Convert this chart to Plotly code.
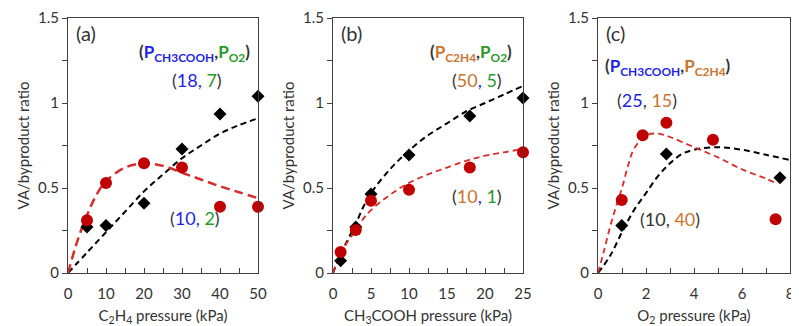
import plotly.graph_objects as go

# ---------------- data ----------------
# panel (a): C2H4 pressure
a_x = [5, 10, 20, 30, 40, 50]
a_black = [0.27, 0.28, 0.41, 0.73, 0.935, 1.04]
a_red = [0.31, 0.53, 0.645, 0.62, 0.39, 0.39]
a_fit_x_black = [0, 5, 10, 15, 20, 25, 30, 35, 40, 45, 50]
a_fit_black = [0, 0.12, 0.24, 0.36, 0.48, 0.58, 0.675, 0.75, 0.82, 0.87, 0.91]
a_fit_x_red = [0, 2.5, 5, 7.5, 10, 15, 20, 25, 30, 35, 40, 45, 50]
a_fit_red = [0, 0.19, 0.34, 0.46, 0.54, 0.62, 0.645, 0.63, 0.59, 0.55, 0.51, 0.475, 0.44]

# panel (b): CH3COOH pressure
b_x = [1, 3, 5, 10, 18, 25]
b_black = [0.072, 0.27, 0.465, 0.694, 0.924, 1.03]
b_red = [0.124, 0.253, 0.425, 0.49, 0.62, 0.71]
b_fit_x = [0, 1, 2, 3, 4, 5, 7.5, 10, 12.5, 15, 17.5, 20, 22.5, 25]
b_fit_black = [0, 0.11, 0.2, 0.29, 0.39, 0.47, 0.61, 0.72, 0.81, 0.88, 0.95, 1.0, 1.05, 1.1]
b_fit_red = [0, 0.11, 0.19, 0.25, 0.32, 0.37, 0.46, 0.53, 0.58, 0.62, 0.66, 0.69, 0.71, 0.73]

# panel (c): O2 pressure
c_x_black = [0.99, 2.85, 7.58]
c_black = [0.28, 0.70, 0.56]
c_x_red = [0.99, 1.86, 2.85, 4.79, 7.4]
c_red = [0.43, 0.81, 0.884, 0.784, 0.316]
c_fit_x_black = [0, 0.5, 1, 1.5, 2, 2.5, 3, 3.5, 4, 5, 6, 7, 8]
c_fit_black = [0, 0.1, 0.24, 0.37, 0.47, 0.57, 0.645, 0.7, 0.725, 0.74, 0.725, 0.695, 0.665]
c_fit_x_red = [0, 0.25, 0.5, 0.75, 1, 1.25, 1.5, 2, 2.5, 3, 4, 5, 6, 7, 7.4]
c_fit_red = [0, 0.13, 0.27, 0.39, 0.5, 0.63, 0.73, 0.81, 0.82, 0.80, 0.74, 0.68, 0.61, 0.555, 0.53]

# ---------------- style ----------------
BLACK = "#000000"
RED_M = "#c00000"
RED_L = "#d92b2b"
BLUE = "#1f1fe6"
GREEN = "#2a9a2a"
ORANGE = "#c8742e"
DARK = "#333333"
FONT = "Lato"

fig = go.Figure()

panels = [
    ("x", "y", a_x, a_black, a_x, a_red, a_fit_x_black, a_fit_black, a_fit_x_red, a_fit_red, "9px,5px", 2.5),
    ("x2", "y2", b_x, b_black, b_x, b_red, b_fit_x, b_fit_black, b_fit_x, b_fit_red, "6px,4px", 1.8),
    ("x3", "y3", c_x_black, c_black, c_x_red, c_red, c_fit_x_black, c_fit_black, c_fit_x_red, c_fit_red, "6px,4px", 1.8),
]

for xr, yr, bx, by, rx, ry, fbx, fby, frx, fry, rdash, rw in panels:
    fig.add_trace(go.Scatter(x=fbx, y=fby, xaxis=xr, yaxis=yr, mode="lines",
                             line=dict(color=BLACK, width=2, dash="6px,4px", shape="spline"),
                             showlegend=False, hoverinfo="skip"))
    fig.add_trace(go.Scatter(x=frx, y=fry, xaxis=xr, yaxis=yr, mode="lines",
                             line=dict(color=RED_L, width=rw, dash=rdash, shape="spline"),
                             showlegend=False, hoverinfo="skip"))
    fig.add_trace(go.Scatter(x=bx, y=by, xaxis=xr, yaxis=yr, mode="markers",
                             marker=dict(symbol="diamond", size=10, color=BLACK),
                             cliponaxis=False, showlegend=False))
    fig.add_trace(go.Scatter(x=rx, y=ry, xaxis=xr, yaxis=yr, mode="markers",
                             marker=dict(symbol="circle", size=12, color=RED_M),
                             cliponaxis=False, showlegend=False))

# page has an 8px body margin: figure drawn from (8, 8)
OFF = 8
W, H = 791, 318
ydom = [1 - (273 - OFF) / H, 1 - (18 - OFF) / H]
xdoms = [[(68 - OFF) / W, (258 - OFF) / W],
         [(333 - OFF) / W, (523 - OFF) / W],
         [(598 - OFF) / W, (790 - OFF) / W]]

common_x = dict(showgrid=False, zeroline=False, showline=True, linecolor="#404040", linewidth=1.2,
                mirror=True, ticks="inside", ticklen=5, tickcolor="#404040", automargin=False,
                ticklabelstandoff=7,
                tickfont=dict(family=FONT, size=15, color=DARK))
common_y = dict(showgrid=False, zeroline=False, showline=True, linecolor="#404040", linewidth=1.2,
                mirror=True, ticks="outside", ticklen=5, tickcolor="#404040", range=[0, 1.5],
                automargin=False,
                tickvals=[0, 0.5, 1, 1.5], ticktext=["0", "0.5", "1", "1.5"],
                minor=dict(dtick=0.25, ticks="outside", ticklen=5, tickcolor="#404040"),
                tickfont=dict(family=FONT, size=15, color=DARK),
                title=dict(text="VA/byproduct ratio", font=dict(family=FONT, size=15, color=DARK), standoff=4))

xtitles = ["C<sub>2</sub>H<sub>4</sub> pressure (kPa)",
           "CH<sub>3</sub>COOH pressure (kPa)",
           "O<sub>2</sub> pressure (kPa)"]
xranges = [[0, 50], [0, 25], [0, 8]]
xdt = [10, 5, 2]
xminor = [5, 2.5, 1]

layout = dict(width=W, height=H, margin=dict(l=0, r=0, t=0, b=0, autoexpand=False),
              plot_bgcolor="white", paper_bgcolor="white", showlegend=False)
for i in range(3):
    sx = "" if i == 0 else str(i + 1)
    layout["xaxis" + sx] = dict(common_x, domain=xdoms[i], range=xranges[i], dtick=xdt[i], tick0=0,
                                anchor="y" + sx,
                                minor=dict(dtick=xminor[i], ticks="inside", ticklen=5, tickcolor="#404040"),
                                title=dict(text=xtitles[i], font=dict(family=FONT, size=15, color=DARK), standoff=9))
    layout["yaxis" + sx] = dict(common_y, domain=ydom, anchor="x" + sx)
fig.update_layout(**layout)


def span(t, c):
    return f'<span style="color:{c}">{t}</span>'


def ann(xr, yr, x, y, text, size=16, xanchor="center"):
    fig.add_annotation(xref=xr, yref=yr, x=x, y=y, text=text, showarrow=False,
                       xanchor=xanchor, yanchor="middle",
                       font=dict(family=FONT, size=size, color=DARK))


# panel labels
ann("x", "y", 1.6, 1.41, "(a)", 20, "left")
ann("x2", "y2", 0.8, 1.41, "(b)", 20, "left")
ann("x3", "y3", 0.25, 1.41, "(c)", 20, "left")

# headers
ann("x", "y", 33.4, 1.294,
    "<b>(" + span("P<sub>CH3COOH</sub>", BLUE) + "," + span("P<sub>O2</sub>", GREEN) + ")</b>", 17)
ann("x2", "y2", 18.2, 1.294,
    "<b>(" + span("P<sub>C2H4</sub>", ORANGE) + "," + span("P<sub>O2</sub>", GREEN) + ")</b>", 17)
ann("x3", "y3", 2.9, 1.21,
    "<b>(" + span("P<sub>CH3COOH</sub>", BLUE) + "," + span("P<sub>C2H4</sub>", ORANGE) + ")</b>", 17)

# condition labels
ann("x", "y", 33.9, 1.135, "(" + span("18,", BLUE) + " " + span("7", GREEN) + ")", 18)
ann("x", "y", 33.4, 0.324, "(" + span("10,", BLUE) + " " + span("2", GREEN) + ")", 18)
ann("x2", "y2", 18.9, 1.135, "(" + span("50", ORANGE) + span(",", BLUE) + " " + span("5", GREEN) + ")", 18)
ann("x2", "y2", 18.9, 0.453, "(" + span("10", ORANGE) + span(",", BLUE) + " " + span("1", GREEN) + ")", 18)
ann("x3", "y3", 2.04, 1.018, "(" + span("25", BLUE) + ", " + span("15", ORANGE) + ")", 18)
ann("x3", "y3", 3.0, 0.318, "(10, " + span("40", ORANGE) + ")", 18)

fig.write_html("out.html")
